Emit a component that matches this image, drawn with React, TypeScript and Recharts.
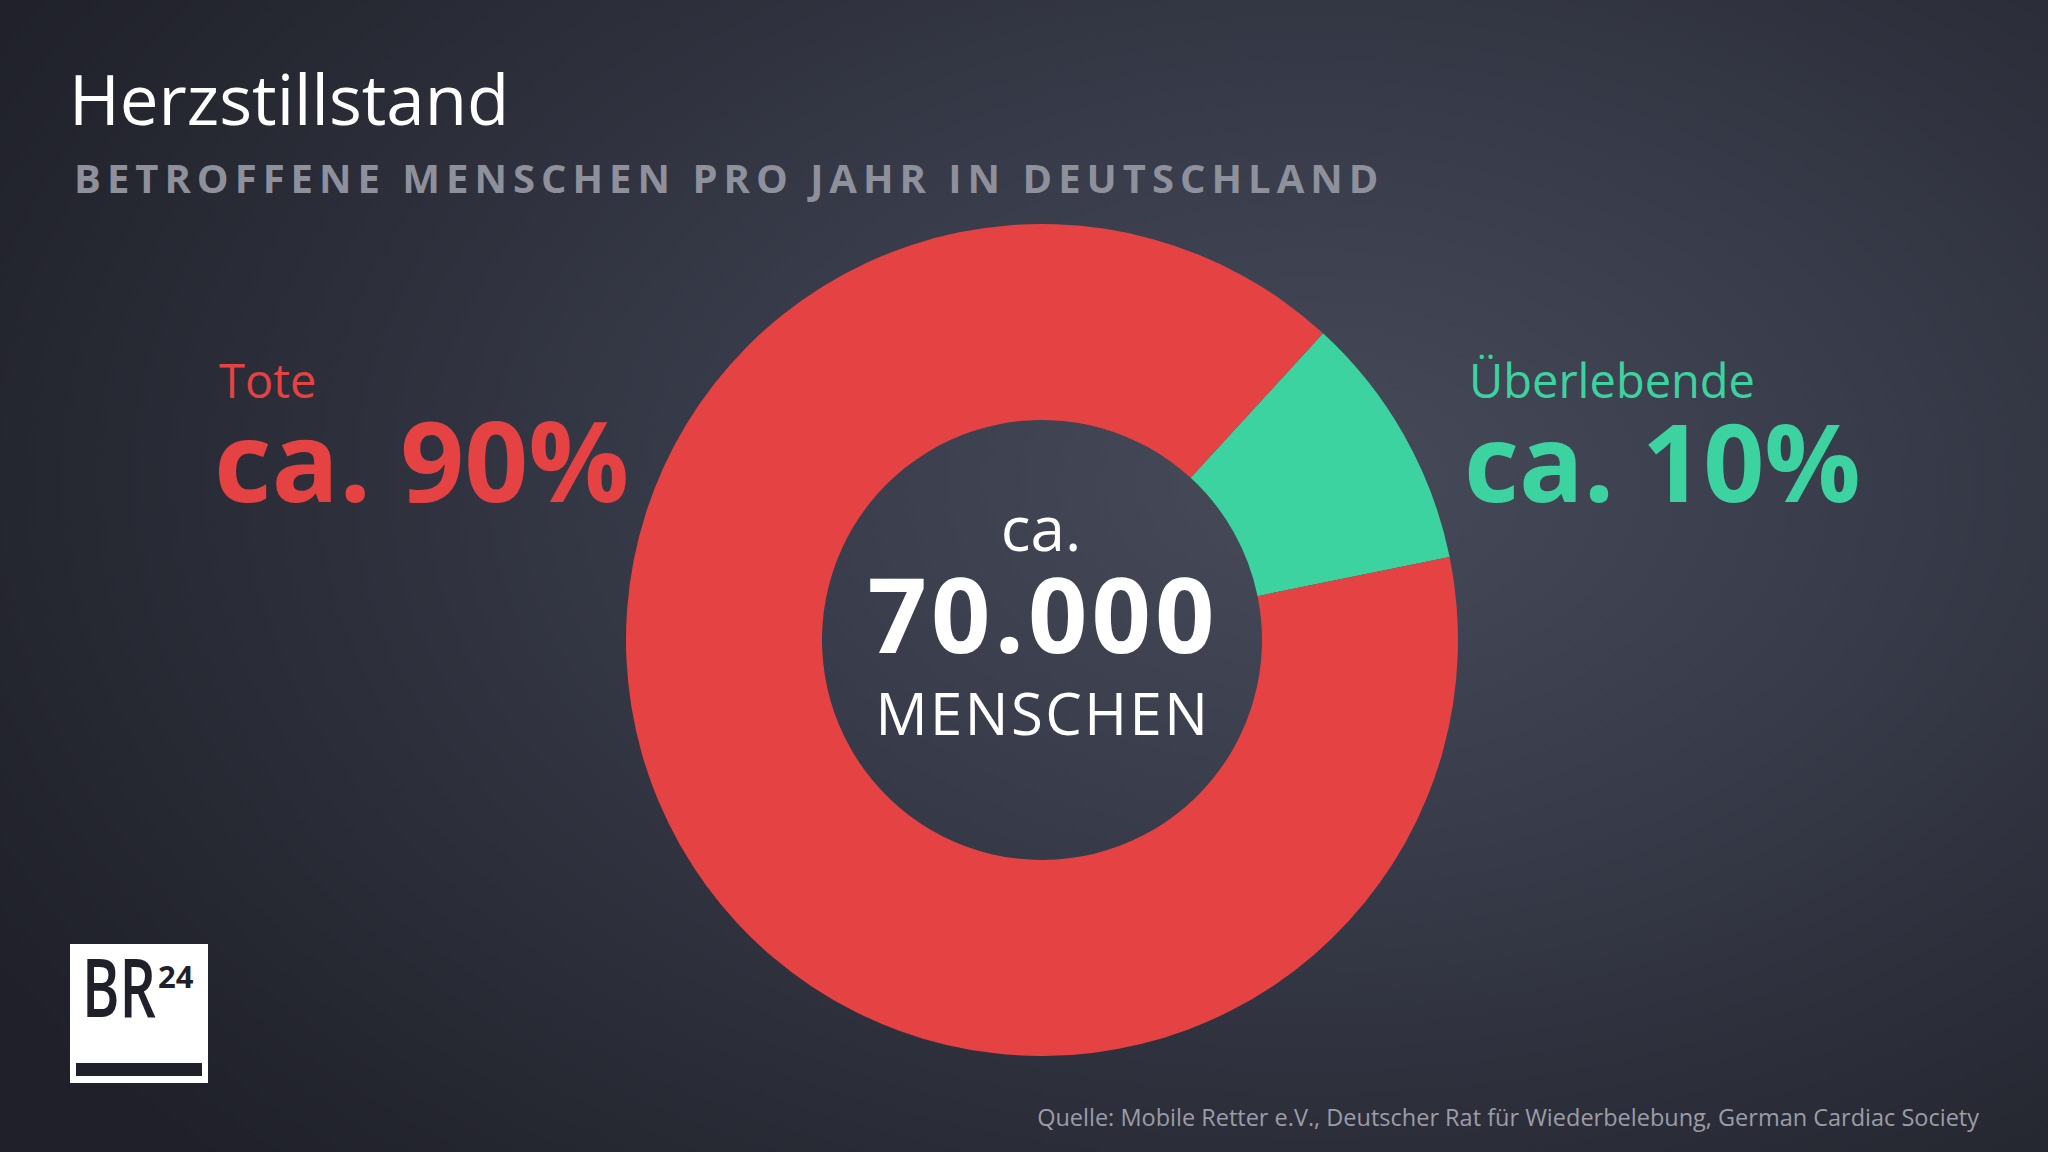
import { PieChart, Pie, Cell } from 'recharts';

const categories = ['Überlebende', 'Tote'];
const shares = [10, 90];
const sliceColors = ['#3cd3a0', '#e54343'];
const totalLabel = '70.000';

const W = 2048;
const H = 1152;
const FONT = '"Open Sans", "Noto Sans", sans-serif';

const pieData = categories.map((name, i) => ({ name, value: shares[i] }));

const App = () => (
    <div
        style={{
            position: 'absolute',
            left: 0,
            top: 0,
            width: W,
            height: H,
            overflow: 'hidden',
            background: 'radial-gradient(ellipse 75% 85% at 64% 42%, #474a58 0%, #373a48 40%, #262832 80%, #1f2029 100%)',
            fontFamily: FONT,
        }}
    >
        <div style={{ position: 'absolute', left: 0, top: 0 }}>
            <PieChart width={W} height={H}>
                <Pie
                    data={pieData}
                    dataKey="value"
                    nameKey="name"
                    cx={1037}
                    cy={635}
                    innerRadius={220}
                    outerRadius={416}
                    startAngle={47.5}
                    endAngle={-312.5}
                    stroke="none"
                    isAnimationActive={false}
                >
                    {pieData.map((d, i) => (
                        <Cell key={d.name} fill={sliceColors[i]} />
                    ))}
                </Pie>
            </PieChart>
        </div>
        <svg width={W} height={H} style={{ position: 'absolute', left: 0, top: 0 }}>
            {/* titles */}
            <text x={69} y={125} fill="#ffffff" fontSize={69} fontFamily={FONT}>
                Herzstillstand
            </text>
            <text x={74} y={193} fill="#8e909b" fontSize={40} fontWeight={700} letterSpacing={6} fontFamily={FONT}>
                BETROFFENE MENSCHEN PRO JAHR IN DEUTSCHLAND
            </text>

            {/* left label */}
            <text x={219} y={398} fill={sliceColors[1]} fontSize={47} fontFamily={FONT}>
                {categories[1]}
            </text>
            <text x={214} y={502} fill={sliceColors[1]} fontSize={112} fontWeight={700} fontFamily={FONT}>
                {`ca. ${shares[1]}%`}
            </text>

            {/* right label */}
            <text x={1469} y={398} fill={sliceColors[0]} fontSize={47} fontFamily={FONT}>
                {categories[0]}
            </text>
            <text x={1464} y={502} fill={sliceColors[0]} fontSize={107} fontWeight={700} fontFamily={FONT}>
                {`ca. ${shares[0]}%`}
            </text>

            {/* centre */}
            <text x={1041} y={551} textAnchor="middle" fill="#ffffff" fontSize={62} fontFamily={FONT}>
                ca.
            </text>
            <text x={1043} y={653} textAnchor="middle" fill="#ffffff" fontSize={104} fontWeight={700} letterSpacing={4} fontFamily={FONT}>
                {totalLabel}
            </text>
            <text x={1043} y={735} textAnchor="middle" fill="#ffffff" fontSize={58} letterSpacing={2.5} fontFamily={FONT}>
                MENSCHEN
            </text>

            {/* source */}
            <text x={1979} y={1126} textAnchor="end" fill="#9b9da8" fontSize={23.5} fontFamily={FONT}>
                Quelle: Mobile Retter e.V., Deutscher Rat für Wiederbelebung, German Cardiac Society
            </text>

            {/* logo */}
            <rect x={70} y={944} width={138} height={139} fill="#ffffff" />
            <text x={82} y={1017} fill="#1f2029" fontSize={82} fontWeight={600} textLength={74} lengthAdjust="spacingAndGlyphs" fontFamily={FONT}>
                BR
            </text>
            <text x={158} y={988} fill="#1f2029" fontSize={31} fontWeight={700} fontFamily={FONT}>
                24
            </text>
            <rect x={76} y={1063} width={126} height={13} fill="#1f2029" />
        </svg>
    </div>
);

export default App;
